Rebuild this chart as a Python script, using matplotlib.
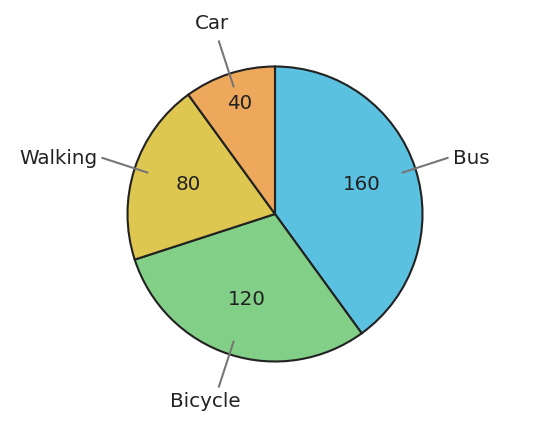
import numpy as np
import matplotlib.pyplot as plt

# Travel mode counts
modes = ["Bus", "Bicycle", "Walking", "Car"]
counts = [160, 120, 80, 40]
colors = ["#5bc1e0", "#82cf87", "#ddc751", "#eda85c"]

W, H = 541, 439
cx, cy, R = 275, 215, 147.5
PT = 0.72  # points per pixel at dpi 100

fig = plt.figure(figsize=(W / 100, H / 100), dpi=100)
ax = fig.add_axes([0, 0, 1, 1])

wedges, texts = ax.pie(
    counts,
    colors=colors,
    startangle=90,
    counterclock=False,
    radius=1,
    wedgeprops=dict(edgecolor="#222222", linewidth=1.5),
)

# Map pixel layout to data units
ax.set_xlim(-cx / R, (W - cx) / R)
ax.set_ylim(-(H - cy) / R, cy / R)
ax.set_aspect("auto")
ax.axis("off")

for w, name, val in zip(wedges, modes, counts):
    mid = np.deg2rad((w.theta1 + w.theta2) / 2)
    c, s = np.cos(mid), np.sin(mid)
    # small slices get their value pushed outward
    rv = 0.78 if val / sum(counts) < 0.15 else 0.62
    ax.annotate(str(val), (rv * c, rv * s), xytext=(0, 2 * PT),
                textcoords="offset points", ha="center", va="center",
                fontsize=14.3, color="#222222")
    ax.plot([0.91 * c, 1.23 * c], [0.91 * s, 1.23 * s],
            color="#777777", lw=1.5)
    ex, ey = 1.23 * c, 1.23 * s
    if abs(c) > 0.6:
        ha = "left" if c > 0 else "right"
        ax.annotate(name, (ex, ey), xytext=((5 if c > 0 else -5) * PT, 0),
                    textcoords="offset points", ha=ha, va="center",
                    fontsize=14.3, color="#222222")
    else:
        va = "bottom" if s > 0 else "top"
        dx = -7 if s > 0 else -14
        ax.annotate(name, (ex, ey), xytext=(dx * PT, (9 if s > 0 else -4) * PT),
                    textcoords="offset points", ha="center", va=va,
                    fontsize=14.3, color="#222222")

fig.savefig("out.png", dpi=100)
